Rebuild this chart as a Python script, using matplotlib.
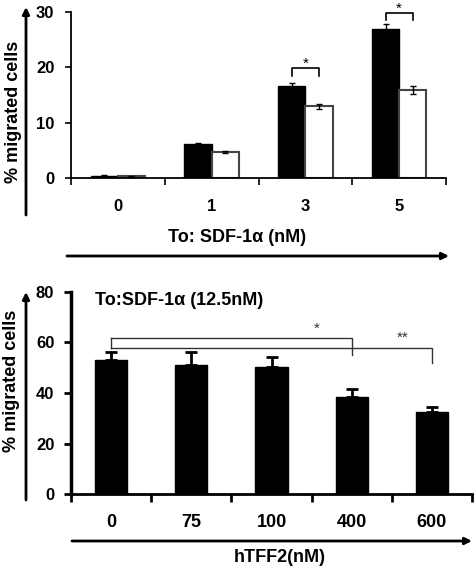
import matplotlib
matplotlib.use("Agg")
import matplotlib.pyplot as plt
import numpy as np

plt.rcParams["font.family"] = ["Liberation Sans", "DejaVu Sans"]
plt.rcParams["font.weight"] = "bold"

# ---------------------------------------------------------------------------
# Data
# ---------------------------------------------------------------------------
top_labels = ["0", "1", "3", "5"]
top_black = [0.3, 6.1, 16.6, 26.9]
top_black_err = [0.2, 0.2, 0.5, 1.0]
top_white = [0.3, 4.75, 12.95, 15.9]
top_white_err = [0.1, 0.2, 0.4, 0.8]
# significance brackets: (category index, bracket top, leg bottom, label)
top_sig = [(2, 19.9, 18.4, "*"), (3, 29.9, 28.6, "*")]

bot_labels = ["0", "75", "100", "400", "600"]
bot_values = [53.0, 51.0, 50.1, 38.5, 32.4]
bot_err = [3.3, 5.3, 4.0, 3.2, 2.1]
# (from idx, to idx, top y, right leg bottom, label, label x, label y)
bot_sig = [(0, 3, 61.6, 55.0, "*", 3.07, 65.3),
           (0, 4, 57.9, 51.8, "**", 4.13, 61.7)]

W, H = 475, 569
fig = plt.figure(figsize=(W / 100, H / 100), dpi=100)


def fx(px):
    return px / W


def fy(py):
    return 1 - py / H


# ---------------------------------------------------------------------------
# Top panel
# ---------------------------------------------------------------------------
ax1 = fig.add_axes([fx(71), fy(178), fx(446 - 71), (178 - 12) / H])
centers = np.arange(len(top_labels)) + 0.5
bw = 0.29
ax1.bar(centers - bw / 2, top_black, bw, color="black", edgecolor="black",
        linewidth=1)
ax1.bar(centers + bw / 2, top_white, bw, color="white", edgecolor="#444444",
        linewidth=1.5)
ax1.errorbar(centers - bw / 2, top_black, yerr=top_black_err, fmt="none",
             ecolor="black", elinewidth=1, capsize=2.5, capthick=1)
ax1.errorbar(centers + bw / 2, top_white, yerr=top_white_err, fmt="none",
             ecolor="black", elinewidth=1, capsize=2.5, capthick=1)

for idx, top, leg, lab in top_sig:
    x0, x1 = centers[idx] - bw / 2, centers[idx] + bw / 2
    ax1.plot([x0, x0, x1, x1], [leg, top, top, leg], color="black", lw=1.2,
             clip_on=False)
    ax1.text((x0 + x1) / 2, top + 0.75, lab, ha="center", va="center",
             fontsize=11, fontweight="normal", clip_on=False)

ax1.set_xlim(0, len(top_labels))
ax1.set_ylim(0, 30)
ax1.set_yticks([0, 10, 20, 30])
ax1.set_xticks(np.arange(len(top_labels) + 1))
ax1.set_xticklabels([])
ax1.set_xticks(centers, minor=True)
ax1.set_xticklabels(top_labels, minor=True)
ax1.tick_params(axis="x", which="major", direction="out", length=5, width=1.2)
ax1.tick_params(axis="x", which="minor", length=0, pad=15, labelsize=12)
ax1.tick_params(axis="y", direction="out", length=4, width=1.2, pad=8,
                labelsize=12)
for s in ["top", "right"]:
    ax1.spines[s].set_visible(False)
for s in ["left", "bottom"]:
    ax1.spines[s].set_linewidth(1.3)

fig.text(fx(14), fy(112), "% migrated cells", rotation=90, ha="center",
         va="center", fontsize=13, fontweight="bold")
fig.text(fx(237), fy(238), "To: SDF-1\u03b1 (nM)", ha="center", va="center",
         fontsize=13, fontweight="bold")

# ---------------------------------------------------------------------------
# Bottom panel
# ---------------------------------------------------------------------------
ax2 = fig.add_axes([fx(71), fy(494.3), fx(472 - 71), 202.6 / H])
bcent = np.arange(len(bot_labels)) + 0.5
ax2.bar(bcent, bot_values, 0.4, color="black", edgecolor="black")
ax2.errorbar(bcent, bot_values, yerr=[np.zeros(len(bot_err)), bot_err],
             fmt="none", ecolor="black", elinewidth=2, capsize=4, capthick=2)

x_left = bcent[0]
ax2.plot([x_left, x_left], [bot_sig[1][2], bot_sig[0][2]], color="#333333",
         lw=1, clip_on=False)
for i0, i1, top, leg, lab, lx, ly in bot_sig:
    ax2.plot([bcent[i0], bcent[i1], bcent[i1]], [top, top, leg],
             color="#333333", lw=1, clip_on=False)
    ax2.text(lx, ly, lab, ha="center", va="center", fontsize=11,
             fontweight="normal", color="#333333")

ax2.set_xlim(0, len(bot_labels))
ax2.set_ylim(0, 80)
ax2.set_yticks([0, 20, 40, 60, 80])
ax2.set_xticks(np.arange(len(bot_labels) + 1))
ax2.set_xticklabels([])
ax2.set_xticks(bcent, minor=True)
ax2.set_xticklabels(bot_labels, minor=True)
ax2.tick_params(axis="x", which="major", direction="out", length=6, width=2)
ax2.tick_params(axis="x", which="minor", length=0, pad=14, labelsize=13)
ax2.tick_params(axis="y", direction="out", length=5, width=2, pad=7,
                labelsize=12)
for s in ["top", "right"]:
    ax2.spines[s].set_visible(False)
ax2.spines["left"].set_linewidth(2.5)
ax2.spines["bottom"].set_linewidth(2)

ax2.text(0.06, 1.0, "To:SDF-1\u03b1 (12.5nM)", transform=ax2.transAxes,
         ha="left", va="top", fontsize=13, fontweight="bold")
fig.text(fx(12), fy(381), "% migrated cells", rotation=90, ha="center",
         va="center", fontsize=13, fontweight="bold")
fig.text(fx(280), fy(557), "hTFF2(nM)", ha="center", va="center",
         fontsize=13, fontweight="bold")

# ---------------------------------------------------------------------------
# Arrows
# ---------------------------------------------------------------------------
def arrow(p0, p1):
    fig.add_artist(matplotlib.patches.FancyArrowPatch(
        (fx(p0[0]), fy(p0[1])), (fx(p1[0]), fy(p1[1])),
        transform=fig.transFigure, arrowstyle="-|>", mutation_scale=10,
        lw=2, color="black", shrinkA=0, shrinkB=0))


arrow((26, 215), (26, 7))
arrow((67, 256), (449, 256))
arrow((26, 500), (26, 292))
arrow((72, 541), (472, 541))

fig.savefig("out.png", dpi=100)
